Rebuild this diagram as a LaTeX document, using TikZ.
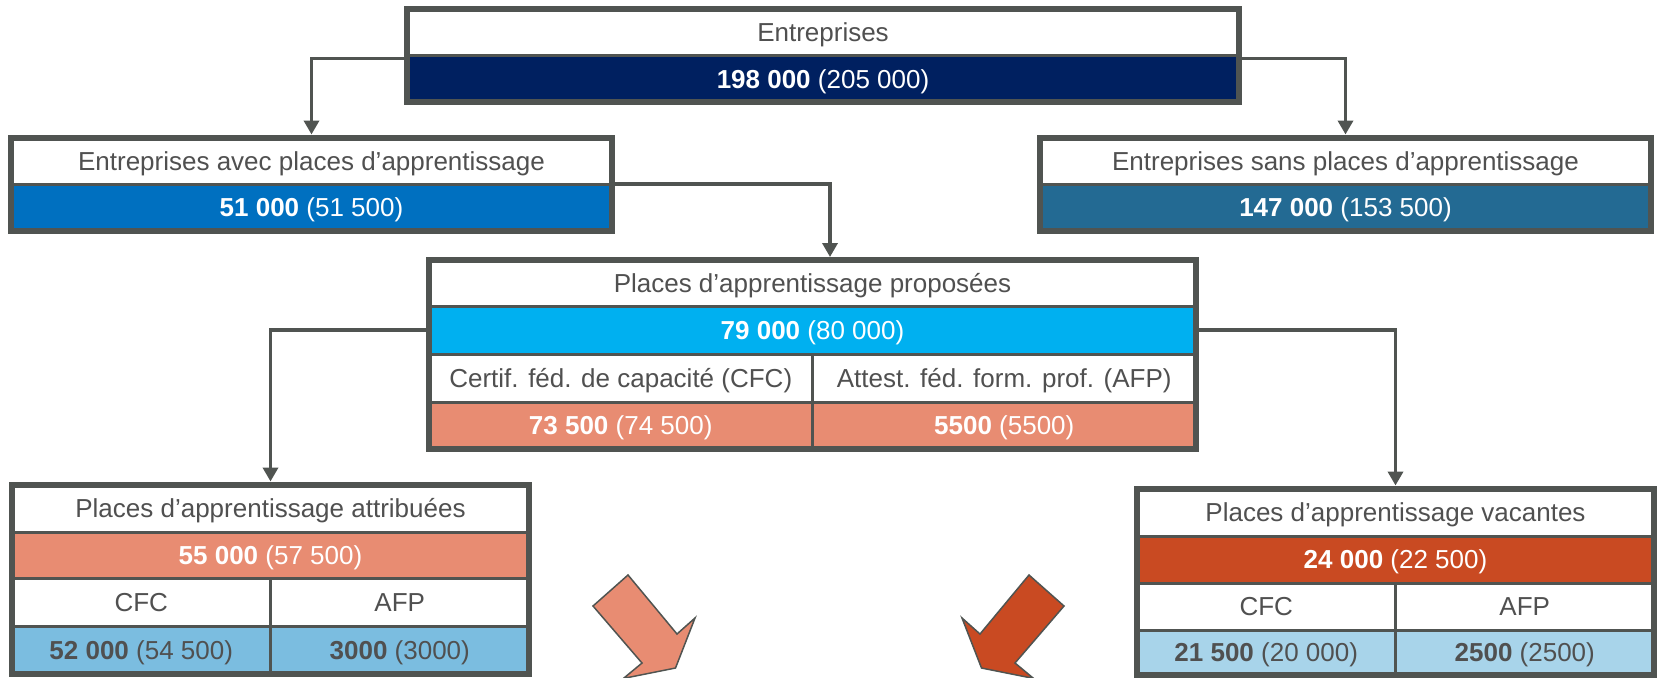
\documentclass[tikz,border=0pt]{standalone}
\usepackage{fontspec}
\setmainfont{Liberation Sans}
\usepackage{xcolor}
\usepackage{tikz}
\usetikzlibrary{arrows.meta}
\usetikzlibrary{calc}
\usetikzlibrary{positioning}

\definecolor{framegray}{RGB}{80,84,81}
\definecolor{txtgray}{RGB}{80,80,80}
\definecolor{navy}{RGB}{0,32,96}
\definecolor{avecblue}{RGB}{0,112,192}
\definecolor{sansteal}{RGB}{35,106,147}
\definecolor{propcyan}{RGB}{0,176,240}
\definecolor{salmon}{RGB}{232,140,114}
\definecolor{vacred}{RGB}{201,74,34}
\definecolor{attrblue}{RGB}{123,189,224}
\definecolor{vacblue}{RGB}{168,212,234}

\begin{document}
\begin{tikzpicture}[
    x=0.5pt, y=-0.5pt,
    font=\fontsize{13}{15}\selectfont,
    cell/.style 2 args={rectangle, draw=framegray, line width=1.5pt,
      inner sep=0pt, outer sep=0pt, minimum width=#1*0.5pt,
      minimum height=#2*0.5pt, text height=9.3pt, text depth=0pt},
    hdcell/.style={fill=white, text=txtgray},
    valcell/.style={fill=#1, text=white},
    palecell/.style={fill=#1, text=txtgray},
    boxframe/.style={draw=framegray, line width=3pt},
    link/.style={draw=framegray, line width=1.75pt, shorten >=1.5pt,
      -{Triangle[length=7pt, width=7.5pt]}},
    bigarrow/.style={draw=framegray, line width=0.75pt}
  ]

  \useasboundingbox (0,0) rectangle (1659,677);
  \clip (0,0) rectangle (1659,677);

  \node[cell={832}{47}, hdcell] (ent-head) at (823,32) {Entreprises};
  \node[cell={832}{46.5}, valcell=navy, below=0pt of ent-head] (ent-val)
  {\textbf{198 000} (205 000)};
  \draw[boxframe] (ent-head.north west) rectangle (ent-val.south east);

  \node[cell={601}{46.5}, hdcell] (avec-head) at (311.5,160.75)
  {Entreprises avec places d’apprentissage};
  \node[cell={601}{47}, valcell=avecblue, below=0pt of avec-head] (avec-val)
  {\textbf{51 000} (51 500)};
  \draw[boxframe] (avec-head.north west) rectangle (avec-val.south east);

  \node[cell={611}{46.5}, hdcell] (sans-head) at (1345.5,160.75)
  {Entreprises sans places d’apprentissage};
  \node[cell={611}{47}, valcell=sansteal, below=0pt of sans-head] (sans-val)
  {\textbf{147 000} (153 500)};
  \draw[boxframe] (sans-head.north west) rectangle (sans-val.south east);

  \node[cell={767}{46}, hdcell] (prop-head) at (812.5,283)
  {Places d’apprentissage proposées};
  \node[cell={767}{48}, valcell=propcyan, below=0pt of prop-head] (prop-val)
  {\textbf{79 000} (80 000)};
  \node[cell={383.5}{48}, hdcell, below right=0pt of prop-val.south west] (prop-cfc)
  {Certif. féd. de capacité (CFC)};
  \node[cell={383.5}{48}, hdcell, right=0pt of prop-cfc] (prop-afp)
  {Attest. féd. form. prof. (AFP)};
  \node[cell={383.5}{47}, valcell=salmon, below=0pt of prop-cfc] (prop-cfcv)
  {\textbf{73 500} (74 500)};
  \node[cell={383.5}{47}, valcell=salmon, below=0pt of prop-afp] (prop-afpv)
  {\textbf{5500} (5500)};
  \draw[boxframe] (prop-head.north west) rectangle (prop-afpv.south east);

  \node[cell={517}{47.5}, hdcell] (attr-head) at (270.5,508.25)
  {Places d’apprentissage attribuées};
  \node[cell={517}{46}, valcell=salmon, below=0pt of attr-head] (attr-val)
  {\textbf{55 000} (57 500)};
  \node[cell={258.5}{48}, hdcell, below right=0pt of attr-val.south west] (attr-cfc) {CFC};
  \node[cell={258.5}{48}, hdcell, right=0pt of attr-cfc] (attr-afp) {AFP};
  \node[cell={258.5}{48}, palecell=attrblue, below=0pt of attr-cfc] (attr-cfcv)
  {\textbf{52 000} (54 500)};
  \node[cell={258.5}{48}, palecell=attrblue, below=0pt of attr-afp] (attr-afpv)
  {\textbf{3000} (3000)};
  \draw[boxframe] (attr-head.north west) rectangle (attr-afpv.south east);

  \node[cell={517}{47.5}, hdcell] (vac-head) at (1395.5,512.25)
  {Places d’apprentissage vacantes};
  \node[cell={517}{47}, valcell=vacred, below=0pt of vac-head] (vac-val)
  {\textbf{24 000} (22 500)};
  \node[cell={258.5}{47}, hdcell, below right=0pt of vac-val.south west] (vac-cfc) {CFC};
  \node[cell={258.5}{47}, hdcell, right=0pt of vac-cfc] (vac-afp) {AFP};
  \node[cell={258.5}{45}, palecell=vacblue, below=0pt of vac-cfc] (vac-cfcv)
  {\textbf{21 500} (20 000)};
  \node[cell={258.5}{45}, palecell=vacblue, below=0pt of vac-afp] (vac-afpv)
  {\textbf{2500} (2500)};
  \draw[boxframe] (vac-head.north west) rectangle (vac-afpv.south east);

  \draw[link] ([yshift=-1.5pt]ent-head.south west) -| (avec-head.north);
  \draw[link] ([yshift=-1.5pt]ent-head.south east) -| (sans-head.north);
  \draw[link] (avec-head.south east) -| ($(prop-head.north)+(17.5,0)$);
  \draw[link] (prop-val.west) -| (attr-head.north);
  \draw[link] (prop-val.east) -| (vac-head.north);

  \filldraw[bigarrow, fill=salmon] (593,606) -- (628,575) -- (677,634)
  -- (695,618) -- (675.5,668) -- (623.5,678.4) -- (642,663) -- cycle;

  \filldraw[bigarrow, fill=vacred] (1064,606) -- (1029,575) -- (980,634)
  -- (962,618) -- (981.5,668) -- (1033.5,678.4) -- (1015,663) -- cycle;

\end{tikzpicture}
\end{document}
